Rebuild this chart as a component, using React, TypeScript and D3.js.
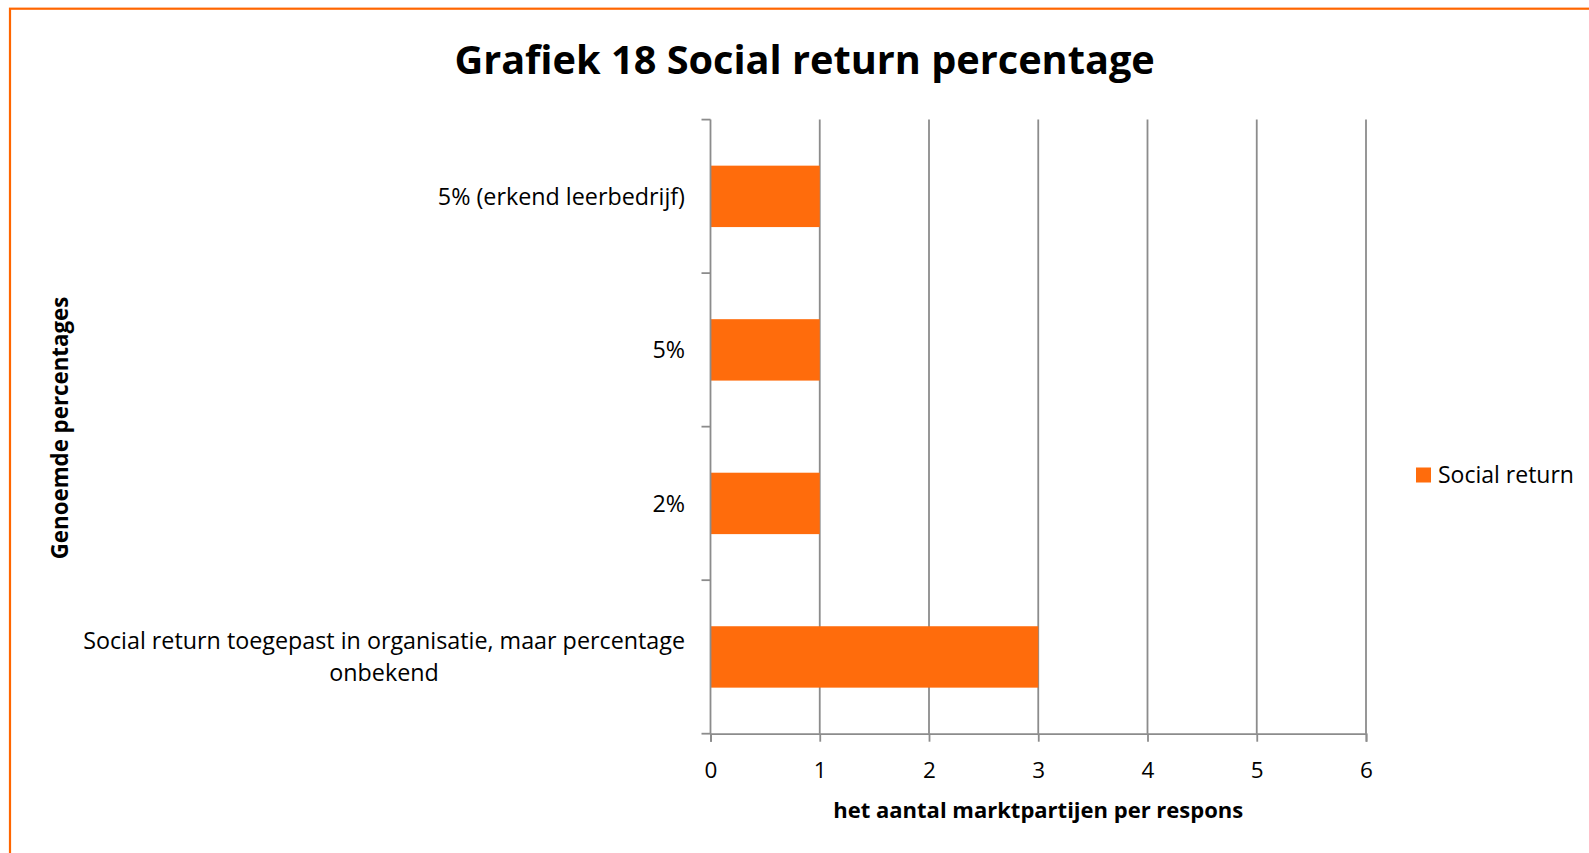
import { useEffect, useRef } from 'react';
import * as d3 from 'd3';

// chart data
const categories = [
  '5% (erkend leerbedrijf)',
  '5%',
  '2%',
  'Social return toegepast in organisatie, maar percentage onbekend',
];
const counts = [1, 1, 1, 3];
const xTicks = [0, 1, 2, 3, 4, 5, 6];
const seriesName = 'Social return';

const ORANGE = '#FF6C0C';
const GRID = '#8C8C8C';
const FONT = '"Open Sans", "Noto Sans", sans-serif';

export default function App() {
  const svgRef = useRef<SVGSVGElement>(null);
  const width = 1589;
  const height = 853;
  const margin = { top: 119.6, right: 223, bottom: 119.3, left: 710.5 };

  useEffect(() => {
    document.body.style.margin = '0';
    document.body.style.overflow = 'hidden';
    if (!svgRef.current) return;
    const svg = d3.select(svgRef.current);
    svg.selectAll('*').remove();

    const innerWidth = width - margin.left - margin.right;
    const innerHeight = height - margin.top - margin.bottom;

    // frame
    svg
      .append('rect')
      .attr('x', 10)
      .attr('y', 8.7)
      .attr('width', 1700)
      .attr('height', 1000)
      .attr('fill', 'white')
      .attr('stroke', '#FF6600')
      .attr('stroke-width', 2.2);

    svg
      .append('text')
      .attr('x', 804.6)
      .attr('y', 74)
      .attr('text-anchor', 'middle')
      .style('font-family', FONT)
      .style('font-weight', 700)
      .style('font-size', '39.7px')
      .text('Grafiek 18 Social return percentage');

    const x = d3.scaleLinear().domain([0, 6]).range([0, innerWidth]);
    const y = d3
      .scaleBand()
      .domain(categories)
      .range([0, innerHeight])
      .paddingInner(0.6)
      .paddingOuter(0.3);

    const g = svg
      .append('g')
      .attr('transform', `translate(${margin.left},${margin.top})`);

    // vertical gridlines
    g.selectAll('.grid')
      .data(xTicks.slice(1))
      .join('line')
      .attr('x1', (d) => x(d))
      .attr('x2', (d) => x(d))
      .attr('y1', 0)
      .attr('y2', innerHeight)
      .attr('stroke', GRID)
      .attr('stroke-width', 1.8);

    // bars
    g.selectAll('.bar')
      .data(categories)
      .join('rect')
      .attr('x', 0)
      .attr('y', (d) => y(d) || 0)
      .attr('width', (_d, i) => x(counts[i]))
      .attr('height', y.bandwidth())
      .attr('fill', ORANGE);

    // x axis
    const xAxis = g
      .append('g')
      .attr('transform', `translate(0,${innerHeight})`)
      .call(
        d3
          .axisBottom(x)
          .tickValues(xTicks)
          .tickFormat(d3.format('d'))
          .tickSize(8)
          .tickPadding(20)
      );
    xAxis.select('.domain').attr('stroke', GRID).attr('stroke-width', 1.8);
    xAxis.selectAll('line').attr('stroke', GRID).attr('stroke-width', 1.8);
    xAxis
      .selectAll('text')
      .style('font-family', FONT)
      .style('font-size', '22.5px')
      .attr('fill', '#000');

    // y axis: ticks at band edges
    const step = y.step();
    const edges = d3.range(categories.length + 1).map((i) => i * step);
    g.append('line')
      .attr('x1', 0)
      .attr('x2', 0)
      .attr('y1', 0)
      .attr('y2', innerHeight)
      .attr('stroke', GRID)
      .attr('stroke-width', 1.8);
    g.selectAll('.ytick')
      .data(edges)
      .join('line')
      .attr('x1', -9)
      .attr('x2', 0)
      .attr('y1', (d) => d)
      .attr('y2', (d) => d)
      .attr('stroke', GRID)
      .attr('stroke-width', 1.8);

    // category labels, wrapped
    const maxW = 620;
    categories.forEach((c) => {
      const cy = (y(c) || 0) + y.bandwidth() / 2;
      const t = g
        .append('text')
        .style('font-family', FONT)
        .style('font-size', '23.3px')
        .attr('text-anchor', 'middle');
      const words = c.split(' ');
      const lines: string[] = [];
      let cur = '';
      words.forEach((w) => {
        const test = cur ? cur + ' ' + w : w;
        t.text(test);
        if ((t.node() as SVGTextElement).getComputedTextLength() > maxW && cur) {
          lines.push(cur);
          cur = w;
        } else cur = test;
      });
      lines.push(cur);
      let blockW = 0;
      lines.forEach((l) => {
        t.text(l);
        blockW = Math.max(blockW, (t.node() as SVGTextElement).getComputedTextLength());
      });
      t.text(null);
      const lh = 32.4;
      const cx = -25.5 - blockW / 2;
      lines.forEach((l, i) => {
        t.append('tspan')
          .attr('x', cx)
          .attr('y', cy + (i - (lines.length - 1) / 2) * lh)
          .attr('dy', '0.35em')
          .text(l);
      });
    });

    // axis titles
    svg
      .append('text')
      .attr('x', margin.left + innerWidth / 2)
      .attr('y', 818)
      .attr('text-anchor', 'middle')
      .style('font-family', FONT)
      .style('font-weight', 700)
      .style('font-size', '22px')
      .text('het aantal marktpartijen per respons');

    svg
      .append('text')
      .attr('transform', 'translate(68,428) rotate(-90)')
      .attr('text-anchor', 'middle')
      .style('font-family', FONT)
      .style('font-weight', 700)
      .style('font-size', '22.3px')
      .text('Genoemde percentages');

    // legend
    const lg = svg.append('g').attr('transform', 'translate(1416,467.5)');
    lg.append('rect').attr('width', 15).attr('height', 15).attr('fill', ORANGE);
    lg.append('text')
      .attr('x', 22)
      .attr('y', 7.5)
      .attr('dy', '0.35em')
      .style('font-family', FONT)
      .style('font-size', '23px')
      .text(seriesName);
  }, []);

  return (
    <svg
      ref={svgRef}
      viewBox={`0 0 ${width} ${height}`}
      preserveAspectRatio="none"
      style={{
        position: 'fixed',
        left: 0,
        top: 0,
        width: '100vw',
        height: '100vh',
        background: 'white',
      }}
    />
  );
}
